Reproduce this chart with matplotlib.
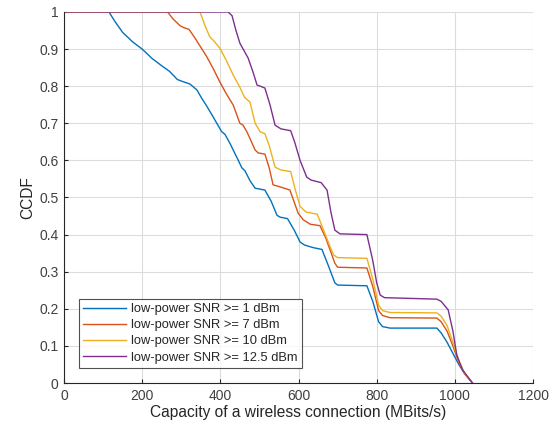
import matplotlib
matplotlib.use("Agg")
import matplotlib.pyplot as plt

plt.rcParams['font.family'] = ['Liberation Sans', 'DejaVu Sans']

# capacity (MBits/s) and CCDF samples for each SNR threshold
cap_1 = [0, 115, 130, 150, 175, 200, 225, 250, 270, 290, 305, 322, 340, 352, 366,
         380, 391, 403, 412, 425, 446, 455, 463, 476, 489, 514, 530, 545, 553, 572,
         590, 604, 615, 637, 660, 675, 693, 700, 775, 790, 805, 815, 834, 954, 965,
         980, 995, 1010, 1025, 1045]
ccdf_1 = [1, 1, 0.975, 0.945, 0.92, 0.9, 0.875, 0.855, 0.84, 0.818, 0.812, 0.806,
          0.79, 0.768, 0.745, 0.72, 0.70, 0.678, 0.67, 0.645, 0.60, 0.58, 0.572,
          0.545, 0.525, 0.52, 0.49, 0.452, 0.447, 0.443, 0.41, 0.38, 0.372, 0.365,
          0.36, 0.32, 0.27, 0.264, 0.262, 0.22, 0.165, 0.152, 0.148, 0.148, 0.135,
          0.11, 0.08, 0.05, 0.025, 0]

cap_7 = [0, 265, 280, 297, 306, 320, 335, 350, 365, 381, 399, 415, 433, 450, 458,
         468, 489, 497, 514, 525, 535, 555, 578, 599, 612, 630, 655, 670, 693, 700,
         775, 790, 805, 815, 834, 954, 965, 980, 995, 1010, 1025, 1045]
ccdf_7 = [1, 1, 0.98, 0.963, 0.958, 0.953, 0.93, 0.905, 0.88, 0.849, 0.811, 0.78,
          0.749, 0.70, 0.695, 0.677, 0.628, 0.62, 0.617, 0.58, 0.534, 0.528, 0.52,
          0.458, 0.44, 0.428, 0.424, 0.39, 0.323, 0.312, 0.31, 0.26, 0.195, 0.182,
          0.176, 0.175, 0.165, 0.14, 0.10, 0.055, 0.025, 0]

cap_10 = [0, 348, 360, 373, 385, 399, 415, 433, 450, 462, 476, 489, 502, 514, 525,
          540, 555, 580, 592, 604, 619, 648, 665, 681, 690, 700, 775, 790, 805, 815,
          834, 954, 965, 980, 995, 1010, 1025, 1045]
ccdf_10 = [1, 1, 0.965, 0.933, 0.92, 0.902, 0.87, 0.83, 0.797, 0.77, 0.757, 0.70,
           0.677, 0.672, 0.64, 0.582, 0.574, 0.57, 0.52, 0.476, 0.461, 0.455, 0.41,
           0.367, 0.345, 0.338, 0.336, 0.28, 0.21, 0.195, 0.19, 0.189, 0.18, 0.155,
           0.11, 0.06, 0.027, 0]

cap_125 = [0, 420, 430, 440, 450, 471, 483, 494, 502, 514, 527, 540, 555, 580, 590,
           604, 621, 632, 658, 673, 683, 693, 706, 775, 790, 800, 809, 820, 954, 965,
           983, 995, 1005, 1020, 1045]
ccdf_125 = [1, 1, 0.99, 0.95, 0.916, 0.876, 0.84, 0.803, 0.80, 0.795, 0.75, 0.695,
            0.685, 0.68, 0.65, 0.60, 0.555, 0.547, 0.54, 0.52, 0.46, 0.412, 0.402,
            0.40, 0.33, 0.27, 0.237, 0.23, 0.226, 0.22, 0.197, 0.14, 0.075, 0.035, 0]

labels = ['low-power SNR >= 1 dBm', 'low-power SNR >= 7 dBm',
          'low-power SNR >= 10 dBm', 'low-power SNR >= 12.5 dBm']
colors = ['#0072BD', '#D95319', '#EDB120', '#7E2F8E']

fig = plt.figure(figsize=(5.55, 4.34), dpi=100)
ax = fig.add_axes([0.1153, 0.1175, 0.8451, 0.8549])

series = [(cap_1, ccdf_1), (cap_7, ccdf_7), (cap_10, ccdf_10), (cap_125, ccdf_125)]
for (x, y), lab, c in zip(series, labels, colors):
    ax.plot(x, y, color=c, linewidth=1.0, label=lab)

ax.set_xlim(0, 1200)
ax.set_ylim(0, 1)
ax.set_xticks(range(0, 1201, 200))
ax.set_yticks([i / 10 for i in range(11)])
ax.set_yticklabels(['0', '0.1', '0.2', '0.3', '0.4', '0.5', '0.6', '0.7', '0.8',
                    '0.9', '1'])

ax.grid(True, color='#dcdcdc', linewidth=0.8)
ax.set_axisbelow(True)
for s in ['top', 'right']:
    ax.spines[s].set_visible(False)
for s in ['bottom', 'left']:
    ax.spines[s].set_color('#262626')
    ax.spines[s].set_linewidth(0.8)
ax.tick_params(direction='in', length=3, colors='#262626', labelsize=10,
               labelcolor='#404040', pad=4)

ax.set_xlabel('Capacity of a wireless connection (MBits/s)', fontsize=11.2,
              color='#262626', labelpad=2)
ax.set_ylabel('CCDF', fontsize=11.2, color='#262626', labelpad=3)

leg = ax.legend(loc='lower left', bbox_to_anchor=(0.031, 0.04), fontsize=9.3,
                frameon=True, fancybox=False, edgecolor='#262626',
                handlelength=3.3, handletextpad=0.4, borderpad=0.35,
                labelspacing=0.32, borderaxespad=0)
leg.get_frame().set_linewidth(0.8)
for t in leg.get_texts():
    t.set_color('#262626')

fig.savefig('out.png', dpi=100)
